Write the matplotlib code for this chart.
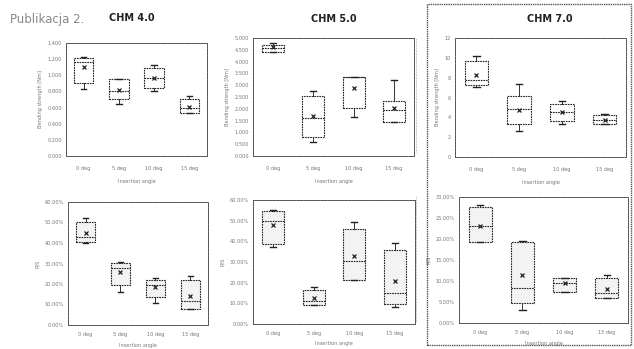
import matplotlib
matplotlib.use("Agg")
import matplotlib.pyplot as plt
from matplotlib.patches import Rectangle
from matplotlib.lines import Line2D
from matplotlib.ticker import FuncFormatter

W, H = 634, 349

categories = ["0 deg", "5 deg", "10 deg", "15 deg"]

# Bending strength [Nm] - CHM 4.0
bs4_whislo = [0.83, 0.64, 0.80, 0.53]
bs4_q1     = [0.91, 0.71, 0.84, 0.53]
bs4_med    = [1.17, 0.80, 0.97, 0.59]
bs4_q3     = [1.21, 0.95, 1.09, 0.71]
bs4_whishi = [1.23, 0.95, 1.13, 0.74]
bs4_mean   = [1.10, 0.82, 0.97, 0.61]

# Bending strength [Nm] - CHM 5.0
bs5_whislo = [4.40, 0.60, 1.64, 1.43]
bs5_q1     = [4.40, 0.81, 2.03, 1.46]
bs5_med    = [4.57, 1.61, 3.33, 1.93]
bs5_q3     = [4.71, 2.54, 3.35, 2.31]
bs5_whishi = [4.80, 2.76, 3.35, 3.24]
bs5_mean   = [4.60, 1.69, 2.89, 2.04]

# Bending strength [Nm] - CHM 7.0
bs7_whislo = [7.1, 2.6, 3.3, 3.3]
bs7_q1     = [7.3, 3.3, 3.6, 3.3]
bs7_med    = [7.8, 4.8, 4.5, 3.7]
bs7_q3     = [9.7, 6.2, 5.3, 4.2]
bs7_whishi = [10.2, 7.4, 5.6, 4.3]
bs7_mean   = [8.3, 4.75, 4.5, 3.7]

# R/S [%] - CHM 4.0
rs4_whislo = [40.2, 16.2, 10.9, 7.6]
rs4_q1     = [40.5, 19.5, 13.8, 7.6]
rs4_med    = [43.1, 27.6, 19.6, 11.7]
rs4_q3     = [50.3, 30.1, 21.8, 22.1]
rs4_whishi = [52.0, 30.9, 22.8, 24.1]
rs4_mean   = [44.8, 26.0, 18.5, 14.0]

# R/S [%] - CHM 5.0
rs5_whislo = [37.3, 9.2, 21.3, 8.2]
rs5_q1     = [38.8, 9.2, 21.5, 9.8]
rs5_med    = [49.8, 11.2, 30.5, 14.9]
rs5_q3     = [54.5, 16.5, 46.0, 36.0]
rs5_whishi = [55.0, 18.0, 49.3, 39.0]
rs5_mean   = [48.0, 12.6, 32.9, 20.6]

# R/S [%] - CHM 7.0
rs7_whislo = [19.2, 3.2, 7.5, 6.0]
rs7_q1     = [19.4, 4.8, 7.5, 6.0]
rs7_med    = [23.0, 8.3, 9.6, 7.2]
rs7_q3     = [27.7, 19.4, 10.8, 10.6]
rs7_whishi = [28.0, 19.6, 10.8, 11.4]
rs7_mean   = [23.2, 11.5, 9.5, 8.0]

panels = [
    ((66, 43, 207, 156), (bs4_whislo, bs4_q1, bs4_med, bs4_q3, bs4_whishi, bs4_mean),
     (0, 1.4), [0, 0.2, 0.4, 0.6, 0.8, 1.0, 1.2, 1.4], lambda v, p: f"{v:.3f}",
     "Bending strength [Nm]", "white", 7),
    ((253, 38, 414, 156), (bs5_whislo, bs5_q1, bs5_med, bs5_q3, bs5_whishi, bs5_mean),
     (0, 5.0), [0, 0.5, 1, 1.5, 2, 2.5, 3, 3.5, 4, 4.5, 5], lambda v, p: f"{v:.3f}",
     "Bending strength [Nm]", "white", 7),
    ((455, 38, 626, 157), (bs7_whislo, bs7_q1, bs7_med, bs7_q3, bs7_whishi, bs7_mean),
     (0, 12), [0, 2, 4, 6, 8, 10, 12], lambda v, p: f"{v:.0f}",
     "Bending strength [Nm]", "white", 7),
    ((68, 202, 208, 325), (rs4_whislo, rs4_q1, rs4_med, rs4_q3, rs4_whishi, rs4_mean),
     (0, 60), [0, 10, 20, 30, 40, 50, 60], lambda v, p: f"{v:.2f}%",
     "R/S", "#f3f3f3", 5),
    ((253, 200, 415, 324), (rs5_whislo, rs5_q1, rs5_med, rs5_q3, rs5_whishi, rs5_mean),
     (0, 60), [0, 10, 20, 30, 40, 50, 60], lambda v, p: f"{v:.2f}%",
     "R/S", "#f3f3f3", 5),
    ((459, 197, 628, 323), (rs7_whislo, rs7_q1, rs7_med, rs7_q3, rs7_whishi, rs7_mean),
     (0, 30), [0, 5, 10, 15, 20, 25, 30], lambda v, p: f"{v:.2f}%",
     "R/S", "#f3f3f3", 5),
]

fig = plt.figure(figsize=(W / 100, H / 100), dpi=100)
fig.patch.set_facecolor("white")

tick_col = "#777777"
for rect, data, ylim, yticks, fmt, ylabel, fill, xpad in panels:
    l, t, r, b = rect
    ax = fig.add_axes([l / W, 1 - b / H, (r - l) / W, (b - t) / H])
    whislo, q1, med, q3, whishi, mean = data
    stats = []
    for i, lab in enumerate(categories):
        stats.append(dict(label=lab, whislo=whislo[i], q1=q1[i], med=med[i],
                          q3=q3[i], whishi=whishi[i], mean=mean[i], fliers=[]))
    ax.bxp(stats, positions=[1, 2, 3, 4], widths=0.55, showmeans=True,
           patch_artist=True, showfliers=False,
           boxprops=dict(facecolor=fill, edgecolor="#222222", linewidth=0.8, linestyle=(0, (1.5, 0.8))),
           medianprops=dict(color="#222222", linewidth=0.8, linestyle=(0, (1.5, 0.8))),
           whiskerprops=dict(color="#333333", linewidth=0.7),
           capprops=dict(color="#222222", linewidth=1.0),
           meanprops=dict(marker="x", markeredgecolor="#222222", markersize=3.5, markeredgewidth=0.9),
           capwidths=0.15)
    ax.set_xlim(0.5, 4.5)
    ax.set_ylim(*ylim)
    ax.set_yticks(yticks)
    ax.yaxis.set_major_formatter(FuncFormatter(fmt))
    ax.tick_params(axis="y", length=0, labelsize=3.6, labelcolor=tick_col, pad=3)
    ax.tick_params(axis="x", length=0, labelsize=3.6, labelcolor=tick_col, pad=xpad)
    for s in ax.spines.values():
        s.set_linestyle((0, (1, 0.7)))
        s.set_linewidth(0.6)
        s.set_edgecolor("#555555")
    ax.set_ylabel(ylabel, fontsize=3.6, color=tick_col, labelpad=3)
    ax.set_xlabel("Insertion angle", fontsize=3.6, color=tick_col, labelpad=6 if xpad == 7 else 4)

# Titles
fig.text(10 / W, 1 - 19 / H, "Publikacja 2.", fontsize=8.5, color="#888888", va="center", ha="left")
fig.text(132 / W, 1 - 18 / H, "CHM 4.0", fontsize=7, fontweight="bold", color="#222222", va="center", ha="center")
fig.text(334 / W, 1 - 19 / H, "CHM 5.0", fontsize=7, fontweight="bold", color="#222222", va="center", ha="center")
fig.text(550 / W, 1 - 19 / H, "CHM 7.0", fontsize=7, fontweight="bold", color="#222222", va="center", ha="center")

# Frame around CHM 7.0 column
fig.add_artist(Rectangle((427 / W, 1 - 345 / H), (631 - 427) / W, (345 - 4) / H,
                         transform=fig.transFigure, fill=False, edgecolor="#555555",
                         linewidth=1.0, linestyle=(0, (1, 0.6))))
# faint chart borders
fig.add_artist(Line2D([416 / W, 416 / W], [1 - 152 / H, 1 - 38 / H], transform=fig.transFigure,
                      color="#aaaaaa", linewidth=0.6, linestyle=(0, (1, 0.8))))
fig.add_artist(Line2D([416 / W, 416 / W], [1 - 322 / H, 1 - 196 / H], transform=fig.transFigure,
                      color="#aaaaaa", linewidth=0.6, linestyle=(0, (1, 0.8))))

fig.savefig("out.png", dpi=100, facecolor="white")
